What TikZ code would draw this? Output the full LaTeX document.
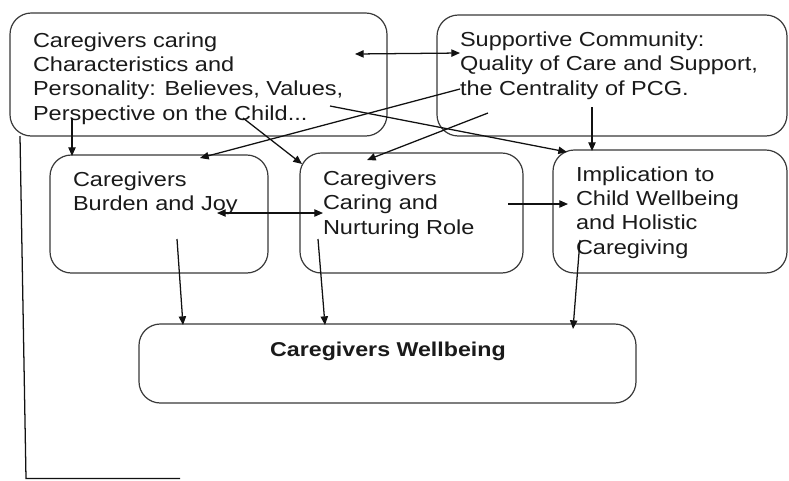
\documentclass[tikz,border=0pt]{standalone}
\usepackage{fontspec}
\setmainfont{Liberation Sans}[FakeStretch=1.16]
\usetikzlibrary{arrows.meta}
\definecolor{txt}{HTML}{1A1A1A}
\definecolor{edge}{HTML}{3A3A3A}
\definecolor{conn}{HTML}{111111}
\begin{document}
\begin{tikzpicture}[x=0.75pt,y=-0.75pt,
  box/.style={draw=edge,line width=0.9pt,rounded corners=16pt,inner sep=0pt,outer sep=0pt},
  lbl/.style={inner sep=0pt,outer sep=0pt,anchor=base west,align=left,text=txt,
    font=\fontsize{15.2pt}{18.2pt}\selectfont},
  conn/.style={draw=conn,line width=0.95pt,-{Triangle[length=6.5pt,width=5.5pt]}},
  dconn/.style={draw=conn,line width=0.95pt,{Triangle[length=6.5pt,width=5.5pt]}-{Triangle[length=6.5pt,width=5.5pt]}}]
\useasboundingbox (0,0) rectangle (789,480);
\fill[white] (0,0) rectangle (789,480);
% boxes
\node[box,minimum width=282.75pt,minimum height=92.25pt] (A) at (198.5,74.5) {};
\node[box,minimum width=262.5pt,minimum height=90.75pt] (B) at (612,75.5) {};
\node[box,minimum width=163.5pt,minimum height=88.5pt] (C) at (159,214) {};
\node[box,minimum width=167.25pt,minimum height=90pt] (D) at (411.5,213) {};
\node[box,minimum width=175.5pt,minimum height=92.25pt] (E) at (670,211.5) {};
\node[box,minimum width=372.75pt,minimum height=59.25pt] (F) at (387.5,363.5) {};
% texts (anchored at the baseline of their last line)
\node[lbl] (tA) at (33,120) {Caregivers caring\\Characteristics and\\Personality: Believes, Values,\\Perspective on the Child...};
\node[lbl] (tB) at (460,95) {Supportive Community:\\Quality of Care and Support,\\the Centrality of PCG.};
\node[lbl] (tC) at (73,210.5) {Caregivers\\Burden and Joy};
\node[lbl] (tD) at (323,234) {Caregivers\\Caring and\\Nurturing Role};
\node[lbl] (tE) at (576,254) {Implication to\\Child Wellbeing\\and Holistic\\Caregiving};
\node[lbl,anchor=base,font=\fontsize{15pt}{18pt}\selectfont\bfseries] (tF) at (388,356) {Caregivers Wellbeing};
% connector end points
\coordinate (ab1) at (355,54);  \coordinate (ab2) at (460,53);
\coordinate (ac1) at (72,118);  \coordinate (ac2) at (72,156);
\coordinate (ad1) at (243,118); \coordinate (ad2) at (302,164);
\coordinate (ae1) at (330,106); \coordinate (ae2) at (567,152);
\coordinate (bc1) at (460,89);  \coordinate (bc2) at (200,158);
\coordinate (bd1) at (488,113); \coordinate (bd2) at (367,160);
\coordinate (be1) at (592,107); \coordinate (be2) at (592,151);
\coordinate (cd1) at (217,213); \coordinate (cd2) at (323,213);
\coordinate (de1) at (508,204); \coordinate (de2) at (568,204);
\coordinate (cf1) at (177,239); \coordinate (cf2) at (183,325);
\coordinate (df1) at (318,239); \coordinate (df2) at (325,325);
\coordinate (ef1) at (580,240); \coordinate (ef2) at (573,329);
\coordinate (l1) at (20,136); \coordinate (l2) at (26,478.5); \coordinate (l3) at (180,478.5);
% connectors
\draw[dconn] (ab1) -- (ab2);
\draw[conn] (ac1) -- (ac2);
\draw[conn] (ad1) -- (ad2);
\draw[conn] (ae1) -- (ae2);
\draw[conn] (bc1) -- (bc2);
\draw[conn] (bd1) -- (bd2);
\draw[conn] (be1) -- (be2);
\draw[dconn] (cd1) -- (cd2);
\draw[conn] (de1) -- (de2);
\draw[conn] (cf1) -- (cf2);
\draw[conn] (df1) -- (df2);
\draw[conn] (ef1) -- (ef2);
\draw[draw=conn,line width=0.95pt] (l1) -- (l2) -- (l3);
\end{tikzpicture}
\end{document}
